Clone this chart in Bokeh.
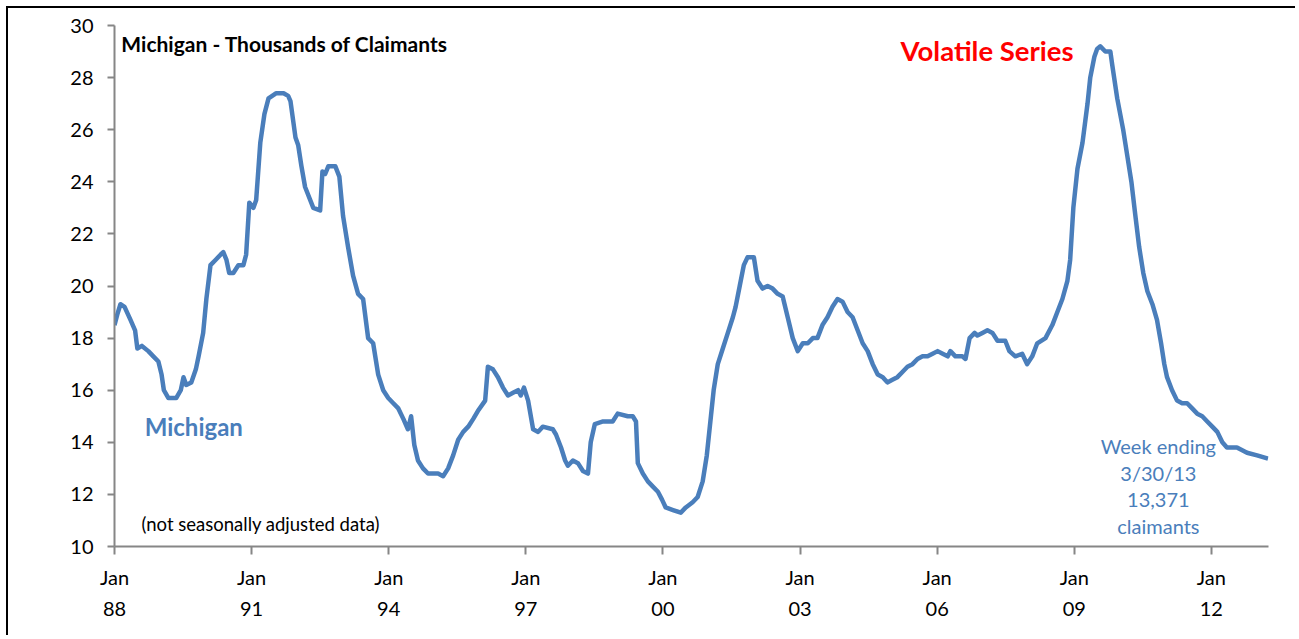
from bokeh.plotting import figure
from bokeh.models import FixedTicker, Range1d, Label, ColumnDataSource
from bokeh.embed import file_html
from bokeh.resources import INLINE

# Decimal years and Michigan insured claimants (thousands)
years = [
    1988.00, 1988.06, 1988.13, 1988.22, 1988.35, 1988.45, 1988.50, 1988.60, 1988.74, 1988.85,
    1988.96, 1989.03, 1989.08, 1989.18, 1989.35, 1989.45, 1989.51, 1989.57, 1989.68, 1989.78,
    1989.84, 1989.94, 1990.01, 1990.10, 1990.21, 1990.32, 1990.38, 1990.45, 1990.51, 1990.60,
    1990.71, 1990.82, 1990.88, 1990.95, 1991.04, 1991.10, 1991.19, 1991.28, 1991.37, 1991.54,
    1991.70, 1991.80, 1991.85, 1991.96, 1992.02, 1992.09, 1992.17, 1992.35, 1992.50, 1992.55,
    1992.61, 1992.68, 1992.83, 1992.92, 1993.00, 1993.11, 1993.22, 1993.33, 1993.44, 1993.55,
    1993.66, 1993.77, 1993.88, 1993.99, 1994.10, 1994.21, 1994.32, 1994.42, 1994.49, 1994.56,
    1994.64, 1994.75, 1994.86, 1995.08, 1995.19, 1995.30, 1995.41, 1995.52, 1995.63, 1995.74,
    1995.85, 1995.95, 1996.11, 1996.17, 1996.28, 1996.39, 1996.50, 1996.61, 1996.72, 1996.83,
    1996.89, 1996.96, 1997.05, 1997.16, 1997.27, 1997.37, 1997.59, 1997.66, 1997.77, 1997.86,
    1997.92, 1998.03, 1998.14, 1998.25, 1998.36, 1998.42, 1998.51, 1998.69, 1998.90, 1999.01,
    1999.23, 1999.34, 1999.41, 1999.45, 1999.56, 1999.67, 1999.78, 1999.89, 1999.98, 2000.06,
    2000.22, 2000.39, 2000.50, 2000.65, 2000.76, 2000.87, 2000.96, 2001.05, 2001.11, 2001.20,
    2001.31, 2001.42, 2001.53, 2001.59, 2001.68, 2001.77, 2001.85, 2001.99, 2002.07, 2002.18,
    2002.29, 2002.40, 2002.51, 2002.62, 2002.73, 2002.84, 2002.95, 2003.06, 2003.17, 2003.28,
    2003.38, 2003.49, 2003.60, 2003.71, 2003.82, 2003.93, 2004.04, 2004.15, 2004.26, 2004.37,
    2004.48, 2004.59, 2004.70, 2004.81, 2004.91, 2005.02, 2005.13, 2005.24, 2005.35, 2005.46,
    2005.57, 2005.68, 2005.79, 2005.90, 2006.01, 2006.12, 2006.23, 2006.29, 2006.40, 2006.55,
    2006.62, 2006.71, 2006.82, 2006.88, 2006.99, 2007.10, 2007.21, 2007.32, 2007.49, 2007.58,
    2007.71, 2007.86, 2007.97, 2008.08, 2008.19, 2008.37, 2008.52, 2008.63, 2008.74, 2008.85,
    2008.91, 2008.98, 2009.07, 2009.18, 2009.29, 2009.35, 2009.44, 2009.50, 2009.57, 2009.68,
    2009.79, 2009.83, 2009.94, 2010.07, 2010.16, 2010.25, 2010.33, 2010.42, 2010.51, 2010.60,
    2010.71, 2010.81, 2010.90, 2010.97, 2011.03, 2011.14, 2011.25, 2011.36, 2011.47, 2011.58,
    2011.69, 2011.80, 2011.91, 2012.02, 2012.13, 2012.24, 2012.34, 2012.56, 2012.78, 2013.00,
    2013.24,
]
claimants = [
    18.5, 18.9, 19.3, 19.2, 18.7, 18.3, 17.6, 17.7, 17.5, 17.3,
    17.1, 16.6, 16.0, 15.7, 15.7, 16.0, 16.5, 16.2, 16.3, 16.8,
    17.3, 18.2, 19.5, 20.8, 21.0, 21.2, 21.3, 21.0, 20.5, 20.5,
    20.8, 20.8, 21.2, 23.2, 23.0, 23.3, 25.5, 26.6, 27.2, 27.4,
    27.4, 27.3, 27.1, 25.7, 25.4, 24.6, 23.8, 23.0, 22.9, 24.4,
    24.3, 24.6, 24.6, 24.2, 22.7, 21.5, 20.4, 19.7, 19.5, 18.0,
    17.8, 16.6, 16.0, 15.7, 15.5, 15.3, 14.9, 14.5, 15.0, 13.9,
    13.3, 13.0, 12.8, 12.8, 12.7, 13.0, 13.5, 14.1, 14.4, 14.6,
    14.9, 15.2, 15.6, 16.9, 16.8, 16.5, 16.1, 15.8, 15.9, 16.0,
    15.8, 16.1, 15.6, 14.5, 14.4, 14.6, 14.5, 14.3, 13.8, 13.3,
    13.1, 13.3, 13.2, 12.9, 12.8, 14.0, 14.7, 14.8, 14.8, 15.1,
    15.0, 15.0, 14.8, 13.2, 12.8, 12.5, 12.3, 12.1, 11.8, 11.5,
    11.4, 11.3, 11.5, 11.7, 11.9, 12.5, 13.5, 15.0, 16.0, 17.0,
    17.6, 18.2, 18.8, 19.2, 20.0, 20.8, 21.1, 21.1, 20.2, 19.9,
    20.0, 19.9, 19.7, 19.6, 18.8, 18.0, 17.5, 17.8, 17.8, 18.0,
    18.0, 18.5, 18.8, 19.2, 19.5, 19.4, 19.0, 18.8, 18.3, 17.8,
    17.5, 17.0, 16.6, 16.5, 16.3, 16.4, 16.5, 16.7, 16.9, 17.0,
    17.2, 17.3, 17.3, 17.4, 17.5, 17.4, 17.3, 17.5, 17.3, 17.3,
    17.2, 18.0, 18.2, 18.1, 18.2, 18.3, 18.2, 17.9, 17.9, 17.5,
    17.3, 17.4, 17.0, 17.3, 17.8, 18.0, 18.5, 19.0, 19.5, 20.2,
    21.0, 23.0, 24.5, 25.5, 27.0, 28.0, 28.8, 29.1, 29.2, 29.0,
    29.0, 28.5, 27.2, 26.0, 25.0, 24.0, 22.8, 21.5, 20.5, 19.8,
    19.3, 18.7, 17.8, 17.0, 16.5, 16.0, 15.6, 15.5, 15.5, 15.3,
    15.1, 15.0, 14.8, 14.6, 14.4, 14.0, 13.8, 13.8, 13.6, 13.5,
    13.371,
]

tick_years = [1988, 1991, 1994, 1997, 2000, 2003, 2006, 2009, 2012]
tick_labels = ["Jan\n88", "Jan\n91", "Jan\n94", "Jan\n97", "Jan\n00",
               "Jan\n03", "Jan\n06", "Jan\n09", "Jan\n12"]
y_ticks = [10, 12, 14, 16, 18, 20, 22, 24, 26, 28, 30]

FONT = "Lato"
BLUE = "#4A7EBB"
GRAY = "#868686"

p = figure(width=1289, height=629, output_backend="svg", toolbar_location=None,
           x_range=Range1d(1988, 2013.25), y_range=Range1d(10, 30),
           min_border_left=106, min_border_right=29, min_border_top=17, min_border_bottom=91)
p.styles = {"margin-left": "6px", "margin-top": "6px",
            "border-left": "2px solid black", "border-top": "2px solid black"}
p.outline_line_color = None
p.xgrid.visible = False
p.ygrid.visible = False

src = ColumnDataSource(dict(x=years, y=claimants))
p.line("x", "y", source=src, line_color=BLUE, line_width=4.5, line_join="round")

for ax in (p.xaxis[0], p.yaxis[0]):
    ax.axis_line_color = GRAY
    ax.axis_line_width = 2
    ax.major_tick_line_color = GRAY
    ax.major_tick_line_width = 2
    ax.minor_tick_line_color = None
    ax.major_tick_in = 0
    ax.major_label_text_font = FONT
    ax.major_label_text_font_size = "20px"
    ax.major_label_text_color = "black"

p.xaxis.ticker = FixedTicker(ticks=tick_years)
p.xaxis.major_label_overrides = {t: l for t, l in zip(tick_years, tick_labels)}
p.xaxis.major_tick_out = 8
p.xaxis.major_label_standoff = 10
p.xaxis.major_label_text_line_height = 1.31

p.yaxis.ticker = FixedTicker(ticks=y_ticks)
p.yaxis.major_tick_out = 7
p.yaxis.major_label_standoff = 14

p.add_layout(Label(x=1988.15, y=29.31, text="Michigan - Thousands of Claimants",
                   text_font=FONT, text_font_style="bold", text_font_size="21px",
                   text_color="black", text_baseline="middle"))
p.add_layout(Label(x=2005.2, y=29.04, text="Volatile Series",
                   text_font=FONT, text_font_style="bold", text_font_size="27.5px",
                   text_color="#FF0000", text_baseline="middle"))
p.add_layout(Label(x=1988.66, y=14.61, text="Michigan",
                   text_font=FONT, text_font_style="bold", text_font_size="24px",
                   text_color=BLUE, text_baseline="middle"))
p.add_layout(Label(x=1988.59, y=10.88, text="(not seasonally adjusted data)",
                   text_font=FONT, text_font_size="18.5px",
                   text_color="black", text_baseline="middle"))
p.add_layout(Label(x=2010.84, y=14.3, text="Week ending\n3/30/13\n13,371\nclaimants",
                   text_font=FONT, text_font_size="20px", text_color=BLUE,
                   text_align="center", text_baseline="top", text_line_height=1.1))

open("out.html", "w").write(file_html(p, INLINE))
